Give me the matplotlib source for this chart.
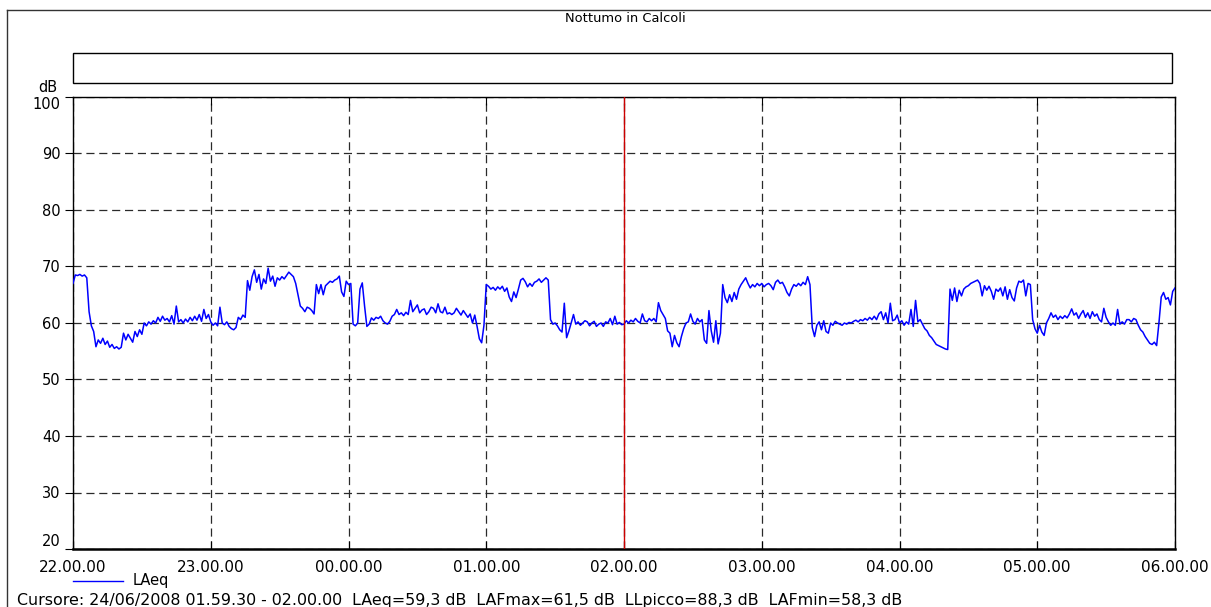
import numpy as np
import matplotlib
matplotlib.use("Agg")
import matplotlib.pyplot as plt
from matplotlib.lines import Line2D
from matplotlib.patches import Rectangle

# LAeq letto ogni minuto, dalle 22.00 alle 06.00
h22 = [67.0, 68.5, 68.4, 68.6, 68.3, 68.5, 68.0, 62.0, 59.5, 58.5,
       55.8, 57.0, 56.4, 57.3, 56.2, 56.8, 55.7, 56.2, 55.5, 55.8,
       55.4, 55.7, 58.2, 57.0, 58.0, 57.3, 56.6, 58.5, 57.6, 58.8,
       58.0, 60.0, 59.5, 60.2, 59.8, 60.4, 60.0, 61.0, 60.3, 61.2,
       60.5, 60.8, 60.2, 61.3, 59.8, 63.0, 60.2, 60.6, 60.0, 60.7,
       60.2, 61.0, 60.4, 61.2, 60.5, 61.5, 60.3, 62.4, 60.8, 61.5]
h23 = [60.2, 59.6, 60.0, 59.5, 62.8, 60.0, 59.7, 60.2, 59.4, 59.0,
       58.8, 59.2, 61.0, 60.6, 61.4, 61.0, 67.5, 65.8, 68.2, 69.4,
       67.2, 68.6, 66.0, 67.8, 67.0, 69.7, 67.4, 68.3, 66.5, 68.0,
       67.6, 68.2, 67.8, 68.4, 69.0, 68.6, 68.2, 67.0, 65.0, 63.0,
       62.6, 62.0, 62.8, 62.6, 62.2, 61.6, 66.8, 65.2, 66.8, 65.0,
       66.6, 67.0, 67.4, 67.2, 67.6, 67.8, 68.3, 65.5, 64.7, 67.4]
h00 = [66.8, 67.0, 59.8, 59.5, 60.0, 66.0, 67.1, 63.0, 59.4, 59.8,
       60.9, 60.5, 61.0, 60.8, 61.2, 60.4, 60.0, 59.8, 60.3, 61.2,
       61.5, 62.4, 61.5, 61.8, 61.3, 61.9, 61.5, 64.0, 62.0, 62.6,
       63.2, 61.8, 62.3, 62.5, 61.5, 62.0, 62.8, 62.6, 61.8, 63.4,
       62.0, 61.8, 62.8, 61.6, 61.8, 61.5, 61.8, 62.6, 62.0, 61.4,
       62.2, 61.6, 61.0, 61.6, 60.0, 61.4, 59.4, 57.2, 56.5, 59.6]
h01 = [66.8, 66.5, 66.0, 66.3, 65.8, 66.4, 66.0, 66.5, 65.6, 66.2,
       64.6, 63.8, 65.5, 64.5, 66.0, 67.6, 67.9, 67.3, 66.4, 67.0,
       66.5, 67.2, 67.4, 67.8, 67.2, 67.6, 68.0, 67.6, 60.6, 59.8,
       60.0, 59.5, 58.8, 58.4, 63.5, 57.4, 58.6, 60.0, 61.5, 59.8,
       60.2, 59.6, 60.0, 60.4, 60.2, 59.5, 60.0, 60.3, 59.4, 59.8,
       60.0, 59.4, 60.2, 60.0, 60.8, 59.7, 61.2, 59.8, 60.1, 59.7]
h02 = [59.8, 60.4, 60.0, 60.5, 60.2, 60.8, 60.3, 60.0, 61.6, 60.4,
       60.2, 60.8, 60.4, 60.8, 60.2, 63.6, 62.2, 61.5, 60.8, 58.6,
       58.2, 55.8, 57.8, 56.5, 55.8, 57.6, 59.0, 60.0, 60.2, 61.6,
       60.3, 59.8, 60.8, 60.2, 60.6, 57.0, 56.4, 62.2, 58.6, 56.6,
       60.4, 56.3, 58.2, 66.8, 64.5, 63.6, 65.0, 63.8, 65.4, 64.2,
       66.0, 66.8, 67.4, 68.0, 67.0, 66.2, 66.8, 66.4, 67.0, 66.6]
h03 = [67.0, 66.4, 66.8, 67.0, 66.6, 65.9, 67.2, 67.6, 67.0, 67.2,
       66.4, 65.4, 64.8, 66.0, 66.8, 66.5, 67.0, 66.6, 67.2, 66.8,
       68.2, 66.8, 59.2, 57.6, 59.6, 60.2, 58.8, 60.4, 58.5, 58.2,
       60.0, 59.6, 60.3, 60.0, 59.8, 59.6, 60.0, 59.8, 60.1, 60.0,
       60.3, 60.5, 60.2, 60.6, 60.4, 60.8, 60.5, 61.0, 60.6, 61.2,
       60.6, 61.6, 62.0, 60.6, 61.8, 60.0, 63.5, 60.4, 60.6, 61.4]
h04 = [60.0, 60.4, 59.6, 60.2, 59.8, 62.4, 59.4, 64.0, 60.2, 60.6,
       59.8, 59.0, 58.6, 57.8, 57.4, 56.8, 56.2, 56.0, 55.8, 55.6,
       55.4, 55.3, 66.0, 64.0, 66.2, 63.8, 65.8, 64.8, 66.0, 66.4,
       66.6, 67.0, 67.2, 67.4, 67.6, 67.0, 64.8, 66.6, 65.8, 66.5,
       65.6, 64.2, 66.0, 65.6, 66.2, 64.8, 66.4, 64.2, 65.9, 64.5,
       63.9, 66.2, 67.4, 67.2, 67.6, 64.8, 67.0, 66.8, 60.6, 59.0]
h05 = [58.2, 59.6, 58.4, 57.8, 60.0, 60.8, 61.8, 61.0, 61.4, 60.6,
       61.2, 60.8, 61.3, 60.9, 61.6, 62.5, 61.4, 61.8, 60.8, 61.6,
       62.2, 61.0, 61.8, 60.8, 62.0, 61.2, 61.6, 60.6, 60.2, 62.6,
       61.0, 60.2, 59.6, 60.0, 59.6, 62.4, 59.8, 60.2, 59.8, 60.6,
       60.6, 60.2, 60.8, 60.6, 59.6, 58.8, 58.4, 57.6, 57.0, 56.4,
       56.2, 56.6, 56.0, 60.0, 64.6, 65.4, 64.2, 64.5, 63.2, 65.6,
       66.2]

laeq = h22 + h23 + h00 + h01 + h02 + h03 + h04 + h05
ore = ['22.00.00', '23.00.00', '00.00.00', '01.00.00', '02.00.00',
       '03.00.00', '04.00.00', '05.00.00', '06.00.00']
livelli = [20, 30, 40, 50, 60, 70, 80, 90, 100]
cursore = 240  # minuti dalle 22.00 -> 02.00.00

plt.rcParams['font.family'] = ['DejaVu Sans']
plt.rcParams['font.size'] = 10.5

W, H = 1211, 607
fig = plt.figure(figsize=(W / 100, H / 100), dpi=100)

ax = fig.add_axes([73 / W, 1 - 549 / H, 1102 / W, 452 / H])
minuti = np.arange(len(laeq))
ax.plot(minuti, laeq, color='#0000ff', lw=1.1, label='LAeq', zorder=3)
ax.axvline(cursore, color='#cc0000', lw=1.0, zorder=4)

ax.set_xlim(0, 480)
ax.set_ylim(20, 100)
ax.set_xticks(np.arange(0, 481, 60))
ax.set_xticklabels(ore, fontsize=11)
ax.set_yticks(livelli)
ax.set_yticklabels([str(v) for v in livelli])
# il primo e l'ultimo valore stanno dentro l'asse, come nell'originale
ax.get_yticklabels()[0].set_va('bottom')
ax.get_yticklabels()[-1].set_va('top')
ax.tick_params(axis='x', direction='in', length=6, top=True, pad=8, width=0.8)
ax.tick_params(axis='y', direction='out', length=6, pad=3, width=0.8)
ax.grid(True, color='#2a2a2a', lw=0.9, linestyle=(0, (6.5, 3.8)))
for s in ax.spines.values():
    s.set_color('black')
    s.set_linewidth(1.0)
ax.spines['bottom'].set_linewidth(1.8)

# dB sopra l'asse
fig.text(48 / W, 1 - 88 / H, 'dB', ha='center', va='center')

# box vuoto sopra il grafico
fig.add_artist(Rectangle((73 / W, 1 - 83 / H), 1099 / W, 30 / H,
                         transform=fig.transFigure, fill=False,
                         edgecolor='black', lw=1.0))

# cornice esterna
fig.add_artist(Line2D([7 / W, 7 / W], [0, 1 - 10 / H], color='#333333', lw=1.0))
fig.add_artist(Line2D([7 / W, 1], [1 - 10 / H, 1 - 10 / H], color='#333333', lw=1.0))

fig.text(625 / W, 1 - 18 / H, 'Nottumo in Calcoli', ha='center', va='center',
         fontsize=9.4)

# legenda
fig.add_artist(Line2D([73 / W, 123 / W], [1 - 581 / H, 1 - 581 / H],
                      color='#0000ff', lw=1.0))
fig.text(133 / W, 1 - 580 / H, 'LAeq', ha='left', va='center')

fig.text(17 / W, 1 - 600 / H,
         'Cursore: 24/06/2008 01.59.30 - 02.00.00  LAeq=59,3 dB  '
         'LAFmax=61,5 dB  LLpicco=88,3 dB  LAFmin=58,3 dB',
         ha='left', va='center', fontsize=11.4)

fig.savefig('out.png', dpi=100)
